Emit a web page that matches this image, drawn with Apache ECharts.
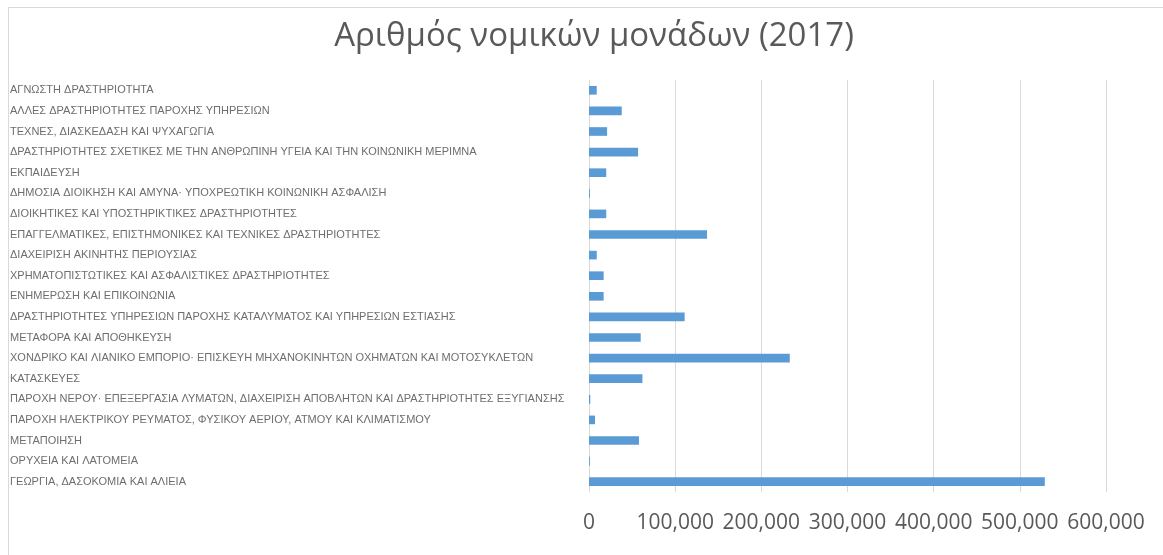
<!DOCTYPE html>
<html>
<head>
<meta charset="utf-8">
<script src="https://cdn.jsdelivr.net/npm/echarts@6/dist/echarts.min.js"></script>
<style>
  html, body { margin: 0; padding: 0; background: #ffffff; }
  #chart { width: 1163px; height: 555px; }
</style>
</head>
<body>
<div id="chart"></div>
<script>
// Legal units by economic activity, 2017 (listed bottom to top)
const categories = [
  'ΓΕΩΡΓΙΑ, ΔΑΣΟΚΟΜΙΑ ΚΑΙ ΑΛΙΕΙΑ',
  'ΟΡΥΧΕΙΑ ΚΑΙ ΛΑΤΟΜΕΙΑ',
  'ΜΕΤΑΠΟΙΗΣΗ',
  'ΠΑΡΟΧΗ ΗΛΕΚΤΡΙΚΟΥ ΡΕΥΜΑΤΟΣ, ΦΥΣΙΚΟΥ ΑΕΡΙΟΥ, ΑΤΜΟΥ ΚΑΙ ΚΛΙΜΑΤΙΣΜΟΥ',
  'ΠΑΡΟΧΗ ΝΕΡΟΥ· ΕΠΕΞΕΡΓΑΣΙΑ ΛΥΜΑΤΩΝ, ΔΙΑΧΕΙΡΙΣΗ ΑΠΟΒΛΗΤΩΝ ΚΑΙ ΔΡΑΣΤΗΡΙΟΤΗΤΕΣ ΕΞΥΓΙΑΝΣΗΣ',
  'ΚΑΤΑΣΚΕΥΕΣ',
  'ΧΟΝΔΡΙΚΟ ΚΑΙ ΛΙΑΝΙΚΟ ΕΜΠΟΡΙΟ· ΕΠΙΣΚΕΥΗ ΜΗΧΑΝΟΚΙΝΗΤΩΝ ΟΧΗΜΑΤΩΝ ΚΑΙ ΜΟΤΟΣΥΚΛΕΤΩΝ',
  'ΜΕΤΑΦΟΡΑ ΚΑΙ ΑΠΟΘΗΚΕΥΣΗ',
  'ΔΡΑΣΤΗΡΙΟΤΗΤΕΣ ΥΠΗΡΕΣΙΩΝ ΠΑΡΟΧΗΣ ΚΑΤΑΛΥΜΑΤΟΣ ΚΑΙ ΥΠΗΡΕΣΙΩΝ ΕΣΤΙΑΣΗΣ',
  'ΕΝΗΜΕΡΩΣΗ ΚΑΙ ΕΠΙΚΟΙΝΩΝΙΑ',
  'ΧΡΗΜΑΤΟΠΙΣΤΩΤΙΚΕΣ ΚΑΙ ΑΣΦΑΛΙΣΤΙΚΕΣ ΔΡΑΣΤΗΡΙΟΤΗΤΕΣ',
  'ΔΙΑΧΕΙΡΙΣΗ ΑΚΙΝΗΤΗΣ ΠΕΡΙΟΥΣΙΑΣ',
  'ΕΠΑΓΓΕΛΜΑΤΙΚΕΣ, ΕΠΙΣΤΗΜΟΝΙΚΕΣ ΚΑΙ ΤΕΧΝΙΚΕΣ ΔΡΑΣΤΗΡΙΟΤΗΤΕΣ',
  'ΔΙΟΙΚΗΤΙΚΕΣ ΚΑΙ ΥΠΟΣΤΗΡΙΚΤΙΚΕΣ ΔΡΑΣΤΗΡΙΟΤΗΤΕΣ',
  'ΔΗΜΟΣΙΑ ΔΙΟΙΚΗΣΗ ΚΑΙ ΑΜΥΝΑ· ΥΠΟΧΡΕΩΤΙΚΗ ΚΟΙΝΩΝΙΚΗ ΑΣΦΑΛΙΣΗ',
  'ΕΚΠΑΙΔΕΥΣΗ',
  'ΔΡΑΣΤΗΡΙΟΤΗΤΕΣ ΣΧΕΤΙΚΕΣ ΜΕ ΤΗΝ ΑΝΘΡΩΠΙΝΗ ΥΓΕΙΑ ΚΑΙ ΤΗΝ ΚΟΙΝΩΝΙΚΗ ΜΕΡΙΜΝΑ',
  'ΤΕΧΝΕΣ, ΔΙΑΣΚΕΔΑΣΗ ΚΑΙ ΨΥΧΑΓΩΓΙΑ',
  'ΑΛΛΕΣ ΔΡΑΣΤΗΡΙΟΤΗΤΕΣ ΠΑΡΟΧΗΣ ΥΠΗΡΕΣΙΩΝ',
  'ΑΓΝΩΣΤΗ ΔΡΑΣΤΗΡΙΟΤΗΤΑ'
];

const legalUnits = [
  529000, 1000, 58000, 7000, 1500, 62000, 233000, 60000, 111000, 17000,
  17000, 9000, 137000, 20000, 1000, 20000, 57000, 21000, 38000, 9000
];

const xTicks = { min: 0, max: 600000, interval: 100000 };

const chart = echarts.init(document.getElementById('chart'), null, { renderer: 'canvas' });

const textColor = '#595959';
const gridLeft = 589;

chart.setOption({
  backgroundColor: '#ffffff',
  animation: false,
  title: {
    text: 'Αριθμός νομικών μονάδων (2017)',
    left: 589,
    top: 15,
    textAlign: 'center',
    textStyle: {
      fontFamily: 'Open Sans',
      fontWeight: 'normal',
      fontSize: 33,
      color: textColor
    }
  },
  graphic: [{
    type: 'rect',
    silent: true,
    shape: { x: 8.5, y: 7.5, width: 1300, height: 700 },
    style: { fill: 'none', stroke: '#d9d9d9', lineWidth: 1 }
  }],
  grid: {
    left: gridLeft,
    right: 57,
    top: 80,
    bottom: 63,
    containLabel: false
  },
  xAxis: {
    type: 'value',
    min: xTicks.min,
    max: xTicks.max,
    interval: xTicks.interval,
    axisLine: { show: false },
    axisTick: { show: false },
    splitLine: { show: true, lineStyle: { color: '#d9d9d9', width: 1 } },
    axisLabel: {
      color: textColor,
      fontFamily: 'Open Sans',
      fontSize: 21,
      margin: 21,
      formatter: v => v.toLocaleString('en-US')
    }
  },
  yAxis: {
    type: 'category',
    data: categories,
    axisLine: { show: true, lineStyle: { color: '#d9d9d9', width: 1 } },
    axisTick: { show: false },
    splitLine: { show: false },
    axisLabel: {
      align: 'left',
      margin: gridLeft - 10,
      color: '#6e6e6e',
      fontFamily: 'Liberation Sans',
      fontSize: 11,
      interval: 0
    }
  },
  series: [{
    type: 'bar',
    data: legalUnits,
    barCategoryGap: '58%',
    itemStyle: { color: '#5b9bd5' }
  }]
});
</script>
</body>
</html>
